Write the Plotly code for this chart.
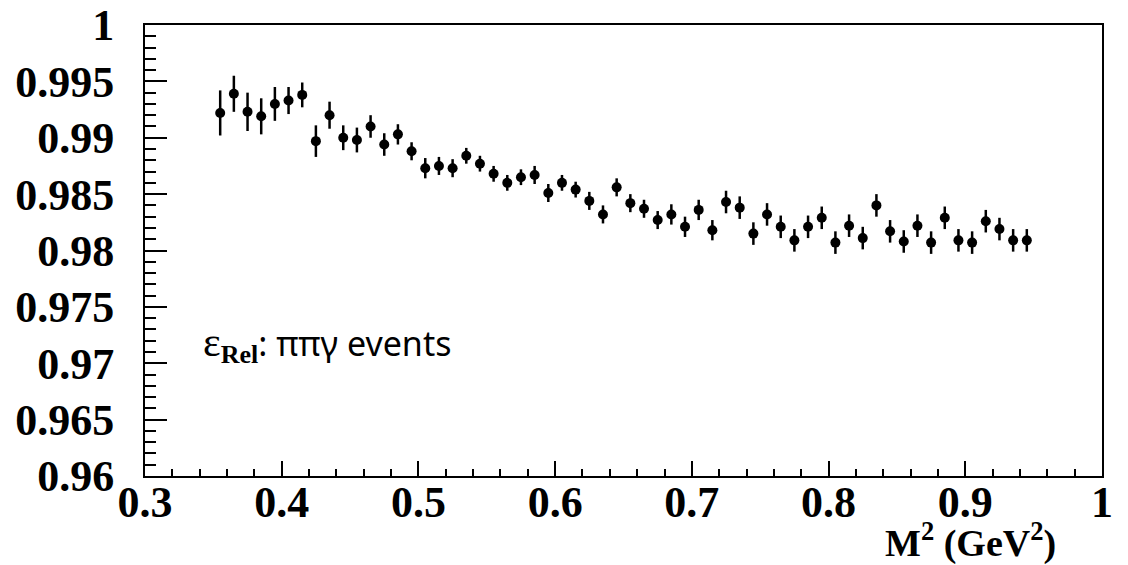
import plotly.graph_objects as go

mass2 = [0.355, 0.365, 0.375, 0.385, 0.395, 0.405, 0.415, 0.425, 0.435, 0.445,
         0.455, 0.465, 0.475, 0.485, 0.495, 0.505, 0.515, 0.525, 0.535, 0.545,
         0.555, 0.565, 0.575, 0.585, 0.595, 0.605, 0.615, 0.625, 0.635, 0.645,
         0.655, 0.665, 0.675, 0.685, 0.695, 0.705, 0.715, 0.725, 0.735, 0.745,
         0.755, 0.765, 0.775, 0.785, 0.795, 0.805, 0.815, 0.825, 0.835, 0.845,
         0.855, 0.865, 0.875, 0.885, 0.895, 0.905, 0.915, 0.925, 0.935, 0.945]

eff_rel = [0.9922, 0.9939, 0.9923, 0.9919, 0.9930, 0.9933, 0.9938, 0.9897, 0.9920, 0.9900,
           0.9898, 0.9910, 0.9894, 0.9903, 0.9888, 0.9873, 0.9875, 0.9873, 0.9884, 0.9877,
           0.9868, 0.9860, 0.9865, 0.9867, 0.9851, 0.9860, 0.9854, 0.9844, 0.9832, 0.9856,
           0.9842, 0.9837, 0.9827, 0.9832, 0.9821, 0.9836, 0.9818, 0.9843, 0.9838, 0.9815,
           0.9832, 0.9821, 0.9809, 0.9821, 0.9829, 0.9807, 0.9822, 0.9811, 0.9840, 0.9817,
           0.9808, 0.9822, 0.9807, 0.9829, 0.9809, 0.9807, 0.9826, 0.9819, 0.9809, 0.9809]

eff_err = [0.0020, 0.0016, 0.0017, 0.0016, 0.0015, 0.0012, 0.0011, 0.0014, 0.0012, 0.0011,
           0.0011, 0.0010, 0.0010, 0.0009, 0.0008, 0.0009, 0.0008, 0.0008, 0.0007, 0.0007,
           0.0007, 0.0007, 0.0007, 0.0008, 0.0008, 0.0007, 0.0007, 0.0008, 0.0008, 0.0008,
           0.0008, 0.0008, 0.0008, 0.0009, 0.0009, 0.0009, 0.0009, 0.0010, 0.0010, 0.0010,
           0.0010, 0.0010, 0.0010, 0.0010, 0.0010, 0.0010, 0.0010, 0.0010, 0.0010, 0.0010,
           0.0010, 0.0010, 0.0010, 0.0010, 0.0010, 0.0010, 0.0010, 0.0010, 0.0010, 0.0010]

x_tickvals = [0.3, 0.4, 0.5, 0.6, 0.7, 0.8, 0.9, 1.0]
x_ticktext = ["0.3", "0.4", "0.5", "0.6", "0.7", "0.8", "0.9", "1"]
y_tickvals = [0.96, 0.965, 0.97, 0.975, 0.98, 0.985, 0.99, 0.995, 1.0]
y_ticktext = ["0.96", "0.965", "0.97", "0.975", "0.98", "0.985", "0.99", "0.995", "1"]

fig = go.Figure()
fig.add_trace(go.Scatter(
    x=mass2, y=eff_rel, mode="markers",
    marker=dict(color="black", size=10, symbol="circle"),
    error_y=dict(type="data", array=eff_err, color="black", thickness=2.5, width=0),
    showlegend=False,
))

tickfont = dict(family="Liberation Serif", size=44, color="black", weight="bold")

fig.update_xaxes(
    range=[0.3, 1.0], tickvals=x_tickvals, ticktext=x_ticktext,
    ticks="inside", ticklen=15, tickwidth=2, tickcolor="black",
    minor=dict(ticks="inside", ticklen=7, tickwidth=2, tickcolor="black", dtick=0.02, tick0=0.3),
    showline=True, linecolor="black", linewidth=2, mirror=True,
    showgrid=False, zeroline=False, tickfont=tickfont, ticklabelstandoff=-14,
    automargin=False,
)
fig.update_yaxes(
    range=[0.96, 1.0], tickvals=y_tickvals, ticktext=y_ticktext,
    ticks="inside", ticklen=22, tickwidth=2, tickcolor="black",
    minor=dict(ticks="inside", ticklen=11, tickwidth=2, tickcolor="black", dtick=0.001, tick0=0.96),
    showline=True, linecolor="black", linewidth=2, mirror=True,
    showgrid=False, zeroline=False, tickfont=tickfont, ticklabelstandoff=20,
    automargin=False,
)

fig.add_annotation(
    x=0.954, y=-0.142, xref="paper", yref="paper", xanchor="right", yanchor="middle",
    text="M<sup>2</sup> (GeV<sup>2</sup>)", showarrow=False,
    font=dict(family="Liberation Serif", size=38, color="black", weight="bold"),
)
fig.add_annotation(
    x=0.058, y=0.292, xref="paper", yref="paper", xanchor="left", yanchor="middle",
    text='<span style="font-family:Liberation Serif;font-size:42px">ε</span>'
         '<sub><span style="font-family:Liberation Serif;font-weight:bold;font-size:26px">Rel</span></sub>'
         '<span style="font-family:Noto Sans;font-size:34px">: ππγ events</span>',
    showarrow=False,
    font=dict(family="Noto Sans", size=34, color="black"),
)

fig.update_layout(
    width=1128, height=565,
    margin=dict(l=145, r=26, t=25, b=89),
    plot_bgcolor="white", paper_bgcolor="white",
)

fig.write_html("out.html")
